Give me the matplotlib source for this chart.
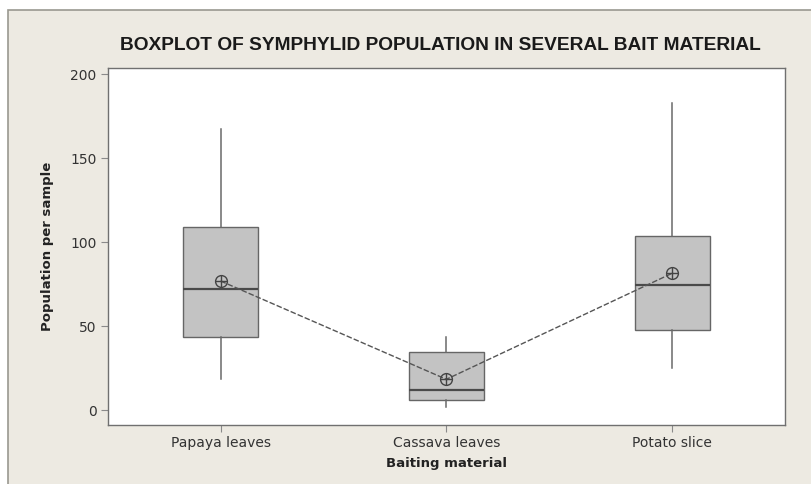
import matplotlib
matplotlib.use("Agg")
import matplotlib.pyplot as plt
from matplotlib.patches import Rectangle

categories = ["Papaya leaves", "Cassava leaves", "Potato slice"]
whisker_low = [18.3, 1.6, 25.2]
q1 = [43.3, 6.0, 47.6]
median = [71.8, 11.7, 74.4]
q3 = [109.1, 34.3, 103.6]
whisker_high = [167.1, 43.3, 182.9]
means = [76.8, 18.3, 81.4]
yticks = [0, 50, 100, 150, 200]

W, H = 811, 484
fig = plt.figure(figsize=(W / 100, H / 100), dpi=100)
fig.patch.set_facecolor("white")
# beige panel (extends past right and bottom edges)
fig.patches.append(Rectangle((8 / W, -0.1), 1.2, 1.1 - 10 / H, transform=fig.transFigure,
                             facecolor="#EDEAE2", edgecolor="#9A9890", linewidth=1.2, zorder=-5))

ax = fig.add_axes([107.7 / W, 1 - 425 / H, (785 - 107.7) / W, (425 - 68.3) / H])
ax.set_zorder(2)
ax.set_facecolor("white")

stats = []
for i, c in enumerate(categories):
    stats.append(dict(label=c, whislo=whisker_low[i], q1=q1[i], med=median[i],
                      q3=q3[i], whishi=whisker_high[i], mean=means[i], fliers=[]))

positions = list(range(1, len(categories) + 1))
ax.bxp(stats, positions=positions, widths=0.333, showcaps=False, showfliers=False,
       patch_artist=True, showmeans=False,
       boxprops=dict(facecolor="#C3C3C3", edgecolor="#666666", linewidth=1.0),
       medianprops=dict(color="#4A4A4A", linewidth=1.6),
       whiskerprops=dict(color="#6A6A6A", linewidth=1.1))

ax.plot(positions, means, linestyle=(0, (4, 1.5)), color="#555555", linewidth=1.0, zorder=3)
ax.plot(positions, means, linestyle="none", marker="o", markersize=8.5, markerfacecolor="none",
        markeredgecolor="#444444", markeredgewidth=1.0, zorder=4)
ax.plot(positions, means, linestyle="none", marker="+", markersize=8.5,
        markeredgecolor="#444444", markeredgewidth=1.0, zorder=4)

ax.set_xlim(0.5, 3.5)
ax.set_ylim(-8.9, 203.4)
ax.set_yticks(yticks)
ax.set_xticks(positions)
ax.set_xticklabels(categories)

for s in ax.spines.values():
    s.set_color("#707070")
    s.set_linewidth(1.0)
ax.tick_params(axis="both", direction="out", length=5, width=0.8, color="#8A8A8A",
               labelsize=10, labelcolor="#333333", pad=3)

ax.set_ylabel("Population per sample", fontsize=9.5, fontweight="bold", color="#222222", labelpad=12)
ax.set_xlabel("Baiting material", fontsize=9.5, fontweight="bold", color="#222222", labelpad=5)

fig.text(440 / W, 1 - 45 / H, "BOXPLOT OF SYMPHYLID POPULATION IN SEVERAL BAIT MATERIAL",
         ha="center", va="center", fontsize=13.8, fontweight="bold", color="#1A1A1A",
         family=["Liberation Sans", "DejaVu Sans"])

fig.savefig("out.png", dpi=100)
